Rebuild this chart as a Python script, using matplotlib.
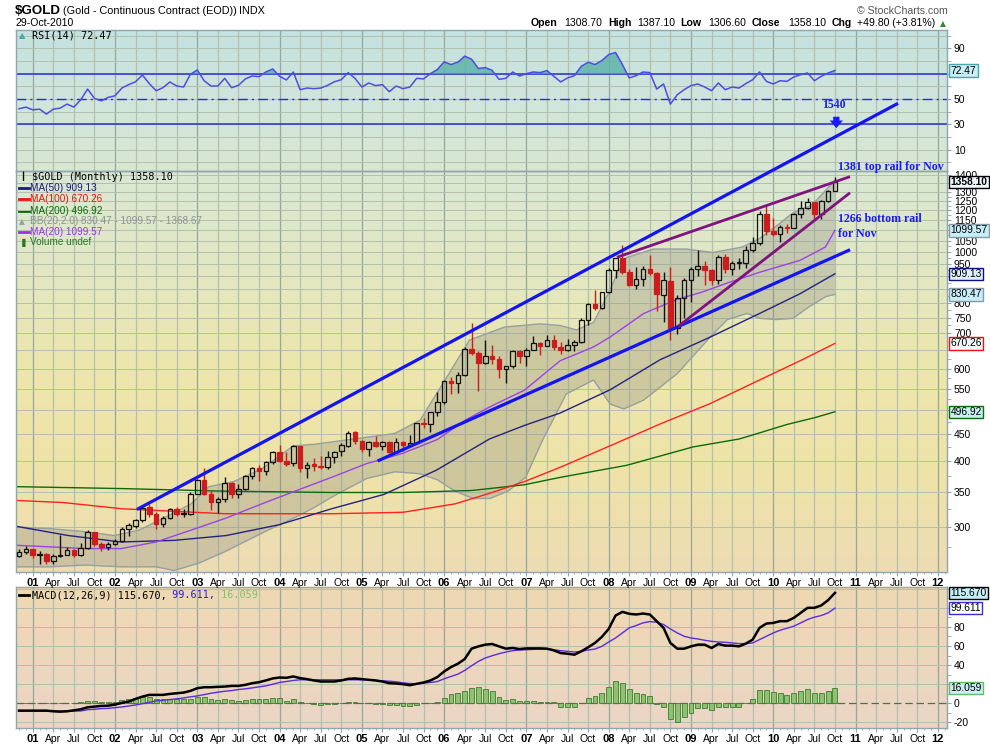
import numpy as np
import matplotlib
matplotlib.use('Agg')
import matplotlib.pyplot as plt
import matplotlib.transforms as mtransforms
from matplotlib.colors import LinearSegmentedColormap
from matplotlib.ticker import FixedLocator, FixedFormatter
from matplotlib.lines import Line2D

plt.rcParams['font.family'] = ['Liberation Sans', 'DejaVu Sans']

# ---------------- data (monthly, first bar = Nov 2000) ----------------
first_year, first_month = 2000, 11

opens = [264, 269, 272, 266, 267, 258, 264, 266, 271, 265,
         274, 293, 279, 275, 279, 282, 297, 302, 309, 327,
         318, 304, 312, 324, 318, 318, 347, 368, 347, 335,
         339, 364, 346, 355, 375, 388, 384, 398, 416, 401,
         397, 427, 388, 395, 392, 391, 408, 418, 428, 454,
         438, 422, 436, 428, 436, 417, 436, 429, 434, 473,
         470, 496, 518, 569, 564, 584, 654, 643, 616, 634,
         626, 599, 606, 648, 635, 652, 672, 663, 679, 659,
         650, 666, 673, 743, 795, 783, 838, 923, 975, 917,
         865, 887, 928, 913, 830, 880, 718, 816, 884, 928,
         942, 924, 884, 980, 927, 955, 955, 1008, 1040, 1182,
         1097, 1081, 1118, 1113, 1180, 1213, 1245, 1181, 1248, 1308.7]
highs = [272, 276, 273, 270, 268, 267, 290, 275, 272, 280,
         296, 294, 281, 281, 285, 300, 305, 311, 328, 332,
         321, 315, 326, 327, 324, 349, 371, 389, 353, 342,
         373, 366, 362, 377, 391, 394, 401, 418, 430, 417,
         429, 428, 398, 405, 409, 418, 419, 434, 456, 457,
         439, 438, 446, 438, 437, 443, 437, 448, 474, 483,
         497, 541, 572, 578, 591, 660, 732, 647, 681, 667,
         635, 607, 652, 650, 658, 691, 675, 696, 694, 675,
         682, 679, 748, 800, 848, 840, 932, 976, 1033, 928,
         936, 940, 988, 918, 917, 935, 827, 892, 938, 1007,
         963, 930, 986, 991, 960, 975, 1025, 1070, 1196, 1227,
         1162, 1127, 1130, 1185, 1249, 1266, 1246, 1253, 1310, 1387.1]
lows = [263, 267, 262, 255, 255, 255, 263, 265, 263, 264,
        272, 276, 270, 271, 277, 281, 288, 299, 307, 314,
        297, 300, 311, 315, 314, 316, 346, 345, 323, 319,
        335, 341, 341, 353, 371, 367, 377, 396, 398, 392,
        392, 381, 372, 383, 386, 386, 397, 410, 426, 431,
        416, 410, 425, 421, 414, 414, 418, 429, 433, 462,
        455, 488, 515, 536, 540, 580, 636, 543, 613, 613,
        575, 563, 603, 616, 608, 650, 637, 662, 652, 639,
        648, 647, 672, 728, 775, 780, 835, 894, 907, 861,
        851, 863, 906, 774, 737, 681, 699, 750, 802, 902,
        865, 865, 868, 911, 905, 930, 932, 1000, 1033, 1075,
        1072, 1045, 1088, 1110, 1162, 1209, 1155, 1157, 1242, 1306.6]
closes = [269, 272, 266, 267, 258, 264, 266, 271, 265, 274,
          293, 279, 275, 279, 282, 297, 303, 309, 326, 318,
          304, 312, 324, 317, 318, 347, 368, 347, 335, 339,
          364, 346, 355, 375, 388, 384, 398, 416, 400, 396,
          427, 388, 394, 392, 391, 408, 416, 429, 453, 438,
          422, 436, 428, 436, 417, 436, 429, 434, 473, 470,
          496, 518, 569, 564, 584, 654, 643, 616, 634, 626,
          599, 606, 648, 635, 652, 672, 663, 679, 659, 650,
          666, 673, 743, 795, 783, 838, 923, 975, 917, 865,
          887, 928, 913, 833, 884, 718, 816, 884, 928, 942,
          924, 884, 980, 927, 955, 955, 1008, 1040, 1182, 1097,
          1081, 1118, 1113, 1180, 1213, 1245, 1181, 1248, 1307, 1358.1]

# overlay lines: (bar index, value)
ma20_x = [-0.4, 9.7, 14.9, 20, 25.1, 30.2, 35.4, 40.5, 45.6, 50.7, 55.9, 61, 65.1, 68.7,
          73.7, 78.9, 83.8, 86.2, 91.1, 96, 99.5, 103.4, 108, 113.9, 117.6, 119]
ma20_y = [277, 273, 273, 281, 296, 312, 332, 352, 373, 396, 414, 440, 479, 508,
          546, 621, 660, 689, 764, 813, 838, 874, 915, 964, 1022, 1099.57]
ma50_x = [-0.4, 7.2, 14.9, 22.6, 30.2, 37.9, 45.6, 53.2, 60.9, 68.6, 73.7, 78.9,
          86.2, 93.5, 100.8, 108, 113.9, 119]
ma50_y = [301, 289, 281, 283, 289, 303, 325, 346, 385, 441, 468, 494,
          547, 624, 689, 764, 833, 909.13]
ma100_x = [-0.4, 6.4, 15, 30, 45.6, 56, 63.6, 68.7, 73.7, 79, 86.2, 93.5, 100.8, 108, 113.9, 119]
ma100_y = [337, 334, 325, 318, 318, 320, 332, 348, 366, 390, 428, 471, 515, 571, 621, 670.26]
ma200_x = [-0.4, 15, 30, 45.6, 56, 66, 73.7, 79, 88.6, 98.3, 105, 108, 112, 116, 119]
ma200_y = [358, 355, 351, 349, 349, 352, 361, 373, 393, 426, 441, 453, 470, 484, 496.92]
bb_up_x = [-0.4, 4.4, 9.7, 13.9, 17.5, 21.1, 25.1, 27.7, 31.3, 35.4, 40, 43.1, 48.2, 54.8,
           58.5, 62.1, 65.7, 70.8, 76, 78.9, 81.3, 83.8, 86.2, 87.2, 88.6, 92.5, 97.3,
           101.2, 105.5, 108, 110.4, 112.8, 115.7, 119]
bb_up_y = [300, 298, 294, 289, 296, 312, 332, 358, 366, 387, 428, 431, 440, 452,
           479, 570, 680, 720, 730, 725, 711, 735, 846, 909, 976, 1013, 1013,
           998, 1022, 1061, 1119, 1185, 1230, 1368.67]
bb_lo_x = [-0.4, 4.4, 9.7, 14.9, 20, 22.6, 26.2, 30.2, 35.4, 40.5, 43.1, 45.6, 50.7, 54.8,
           58.4, 61, 63.6, 66.2, 68.7, 71.3, 73.9, 76.4, 79.8, 83.8, 86.2, 88.2, 91.1,
           96, 100.8, 103.3, 106.2, 108, 110.4, 112.9, 115.3, 117.7, 119]
bb_lo_y = [252, 252, 254, 252, 252, 248, 256, 270, 292, 314, 327, 342, 371, 382,
           379, 369, 351, 340, 340, 351, 373, 440, 537, 571, 514, 503, 523,
           587, 689, 744, 764, 748, 744, 748, 788, 823, 830.47]

rsi = [42.2, 43.5, 41.4, 41.9, 38.0, 41.9, 42.7, 45.9, 43.5, 49.3,
       57.8, 50.4, 48.5, 51.2, 52.5, 58.6, 61.3, 63.6, 68.9, 62.1,
       56.5, 58.9, 63.4, 60.2, 59.4, 69.5, 72.9, 64.4, 60.2, 60.2,
       66.3, 58.9, 60.7, 65.8, 68.1, 67.6, 71.3, 73.7, 67.9, 65.0,
       71.3, 57.3, 58.6, 58.1, 58.6, 60.7, 63.6, 65.2, 70.8, 66.3,
       59.4, 62.6, 60.5, 61.3, 55.7, 60.2, 58.1, 59.4, 66.3, 65.8,
       70.0, 73.2, 79.3, 77.2, 79.0, 83.8, 81.4, 74.0, 74.8, 72.6,
       65.5, 66.3, 71.3, 68.1, 70.0, 71.3, 70.8, 72.4, 67.9, 63.4,
       66.6, 68.4, 75.8, 79.0, 77.2, 80.3, 85.1, 86.7, 77.2, 66.6,
       68.4, 71.3, 70.8, 57.8, 61.8, 45.9, 53.3, 57.3, 60.5, 61.8,
       59.4, 56.5, 62.6, 57.3, 59.4, 58.6, 62.1, 65.2, 71.3, 63.9,
       61.8, 64.4, 63.9, 67.4, 69.2, 70.5, 64.4, 67.9, 70.5, 72.47]

macd = [-7.7, -7.7, -7.7, -7.7, -7.7, -8.4, -8.8, -8.4, -7.4, -6.3,
        -4.2, -3.5, -2.8, -2.5, -1.4, 0.4, 1.8, 4.6, 7.0, 8.8,
        8.8, 8.8, 9.8, 10.5, 11.2, 13.0, 15.8, 16.8, 16.8, 17.2,
        17.5, 18.2, 18.2, 19.3, 21.0, 22.1, 23.9, 26.0, 27.0, 26.7,
        28.1, 26.3, 25.3, 23.9, 22.8, 22.8, 22.8, 23.9, 25.6, 26.0,
        25.3, 24.6, 23.9, 22.8, 21.0, 20.7, 20.0, 18.9, 20.4, 21.8,
        23.9, 27.4, 33.3, 37.9, 41.4, 46.3, 57.2, 59.6, 61.4, 62.1,
        59.6, 57.2, 57.9, 56.8, 57.5, 57.5, 57.5, 57.2, 55.4, 52.6,
        51.9, 50.9, 54.4, 58.6, 63.2, 69.5, 77.9, 91.9, 95.8, 93.7,
        93.0, 94.0, 93.0, 86.0, 79.0, 63.2, 57.2, 57.2, 59.6, 61.4,
        61.4, 57.9, 62.1, 60.4, 60.4, 59.6, 62.5, 66.7, 79.0, 83.5,
        84.2, 86.0, 86.0, 89.5, 94.7, 100.0, 100.0, 102.5, 108.0, 115.67]
signal = [-8.1, -8.1, -8.1, -8.1, -8.1, -8.1, -8.1, -8.1, -8.1, -8.1,
          -6.7, -6.3, -5.6, -5.3, -4.6, -3.9, -2.8, -1.8, -0.4, 1.0,
          2.5, 3.2, 3.9, 4.6, 5.6, 6.7, 7.7, 9.1, 10.5, 11.6,
          12.6, 13.3, 14.4, 15.1, 16.1, 17.2, 18.2, 20.0, 21.8, 22.8,
          23.9, 24.6, 24.6, 24.6, 24.6, 24.6, 24.6, 24.6, 24.6, 24.6,
          24.6, 24.6, 23.9, 23.5, 23.2, 22.5, 21.4, 20.7, 20.4, 21.0,
          21.8, 22.8, 25.6, 28.1, 30.5, 34.4, 39.3, 43.9, 47.4, 49.8,
          51.9, 53.7, 55.1, 55.8, 56.1, 56.5, 56.8, 56.8, 56.1, 55.1,
          54.4, 53.7, 54.4, 55.8, 56.8, 59.6, 64.2, 68.4, 73.7, 79.0,
          81.4, 84.2, 85.6, 84.9, 82.5, 77.9, 73.7, 70.2, 68.4, 67.4,
          66.0, 64.9, 64.2, 63.9, 63.2, 62.5, 62.5, 63.2, 66.7, 70.2,
          73.7, 76.5, 78.6, 80.7, 84.2, 87.7, 90.2, 91.9, 94.7, 99.611]
hist = [0, 0, 0, 0, 0, 0, 0, 0.5, 0.5, 1.0,
        2.8, 2.8, 1.8, 1.8, 1.8, 3.5, 4.2, 5.3, 7.0, 6.3,
        4.2, 4.2, 4.2, 4.2, 4.2, 4.6, 6.3, 6.3, 4.2, 3.5,
        4.2, 3.5, 2.8, 3.5, 4.2, 4.2, 4.2, 5.3, 5.3, 2.8,
        4.2, 1.8, 0, -0.7, -1.8, -1.0, -1.0, 0, 1.8, 1.8,
        0, 0, -0.7, -1.0, -1.8, -1.8, -2.8, -2.8, -1.8, 0,
        0.5, 1.8, 5.3, 9.5, 11.2, 13.0, 16.5, 17.5, 15.0, 12.5,
        6.3, 3.5, 4.6, 2.5, 2.5, 2.5, 1.0, 1.0, 1.0, -3.5,
        -3.5, -4.2, 0, 5.3, 7.7, 10.5, 17.5, 23.5, 21.0, 15.0,
        10.5, 9.8, 7.7, -0.7, -4.2, -16.8, -19.3, -14.0, -9.8, -5.3,
        -5.3, -7.0, -3.5, -3.5, -3.5, -3.5, 0, 4.2, 14.0, 14.0,
        11.6, 10.5, 8.8, 10.5, 13.0, 15.0, 10.5, 10.5, 13.0, 16.059]

# hand-drawn trend lines: (bar index pair, price pair)
trend_upper_blue = ([17.2, 128.2], [324, 1917])
trend_lower_blue = ([52.3, 121.2], [400.6, 1010])
trend_upper_purple = ([87.2, 121.2], [977, 1391])
trend_lower_purple = ([96.2, 121.2], [723, 1296])

price_ticks = list(range(300, 1401, 50))
price_hidden = [500, 650, 850, 900, 1100, 1350]      # covered by value boxes on the chart
rsi_ticks = [10, 30, 50, 70, 90]
rsi_hidden = [70]
macd_ticks = [-20, 0, 20, 40, 60, 80, 100]
macd_hidden = [20, 100]
month_names = ['Jan', 'Feb', 'Mar', 'Apr', 'May', 'Jun', 'Jul', 'Aug', 'Sep', 'Oct', 'Nov', 'Dec']

# ---------------- figure ----------------
W, H = 990, 744
fig = plt.figure(figsize=(W / 100, H / 100), dpi=100)
fig.patch.set_facecolor('white')


def rect(l, t, r, b):
    return [l / W, 1 - b / H, (r - l) / W, (b - t) / H]


def ftext(x, y, s, **kw):
    kw.setdefault('va', 'center')
    fig.text(x / W, 1 - y / H, s, **kw)


def fline(x0, x1, y, color, lw=2):
    fig.add_artist(Line2D([x0 / W, x1 / W], [1 - y / H, 1 - y / H], color=color, lw=lw,
                          transform=fig.transFigure))


def add_bg(r, colors):
    bg = fig.add_axes(r, zorder=0)
    cmap = LinearSegmentedColormap.from_list('g', colors)
    grad = np.linspace(0, 1, 256).reshape(-1, 1)
    bg.imshow(grad, aspect='auto', cmap=cmap, extent=[0, 1, 0, 1], origin='upper')
    bg.set_axis_off()
    return bg


R_RSI = rect(16, 30, 947, 171)
R_PRICE = rect(16, 171, 947, 572)
R_MACD = rect(16, 587, 947, 728)
add_bg(R_RSI, ['#c4e2e0', '#d0e5dc', '#d8e7d2'])
add_bg(R_PRICE, ['#d9e7d4', '#e3e8c2', '#ede6ab', '#efe3a7', '#eddcb4'])
add_bg(R_MACD, ['#efd9b2', '#edd7bc', '#ebd5c6'])

ax_rsi = fig.add_axes(R_RSI, zorder=1)
ax_p = fig.add_axes(R_PRICE, zorder=3)
ax_m = fig.add_axes(R_MACD, zorder=1)

SPINE = '#8ea6ad'
GRID = '#b3c0ad'
GRID_Y = '#93a79c'
XMIN, XMAX = -0.44, 135.34
n = len(closes)
x = np.arange(n)

quarter_pos = [i for i in range(2, 135) if (i - 2) % 3 == 0]


def month_of(i):
    m = (first_month - 1 + i) % 12
    y = first_year + (first_month - 1 + i) // 12
    return m, y


quarter_lab = []
for i in quarter_pos:
    m, y = month_of(i)
    quarter_lab.append('%02d' % (y % 100) if m == 0 else month_names[m])

for ax in (ax_rsi, ax_p, ax_m):
    ax.set_facecolor('none')
    ax.set_xlim(XMIN, XMAX)
    for s in ax.spines.values():
        s.set_color(SPINE)
        s.set_linewidth(1.0)
    for i in quarter_pos:
        m, _ = month_of(i)
        ax.axvline(i, color=GRID_Y if m == 0 else GRID, lw=0.9, zorder=0.5)
    ax.yaxis.tick_right()
    ax.tick_params(axis='y', which='both', direction='out', length=3, color=SPINE,
                   labelsize=7.5, pad=2)
    ax.xaxis.set_major_locator(FixedLocator(quarter_pos))
    ax.xaxis.set_minor_locator(FixedLocator(list(range(0, 136))))
    ax.tick_params(axis='x', which='major', length=3, color=SPINE, labelsize=7.5, pad=1.5)
    ax.tick_params(axis='x', which='minor', length=1.5, color=SPINE)

ax_rsi.tick_params(axis='x', labelbottom=False, length=0, which='both')


def set_xlabels(ax):
    ax.xaxis.set_major_formatter(FixedFormatter(quarter_lab))
    for lbl, s in zip(ax.get_xticklabels(), quarter_lab):
        if s[0].isdigit():
            lbl.set_fontweight('bold')
            lbl.set_fontsize(8)


set_xlabels(ax_p)
set_xlabels(ax_m)


def set_ylabels(ax, ticks, hidden):
    ax.yaxis.set_major_locator(FixedLocator(ticks))
    ax.yaxis.set_major_formatter(FixedFormatter(['' if t in hidden else str(t) for t in ticks]))


def value_box(ax, y, text, fc, ec, bold=False, tc='black'):
    trans = mtransforms.blended_transform_factory(ax.transAxes, ax.transData)
    ax.text(1.004, y, text, transform=trans, ha='left', va='center', fontsize=7.4,
            fontweight='bold' if bold else 'normal', color=tc,
            bbox=dict(boxstyle='square,pad=0.12', fc=fc, ec=ec, lw=1),
            clip_on=False, zorder=20)


# ---------------- RSI ----------------
ax_rsi.set_ylim(-7, 104.5)
for v in range(0, 101, 10):
    ax_rsi.axhline(v, color=GRID, lw=0.7, zorder=0.5)
ax_rsi.axhline(70, color='#2a2ad8', lw=1.1, zorder=2)
ax_rsi.axhline(30, color='#2a2ad8', lw=1.1, zorder=2)
ax_rsi.axhline(50, color='#2a2ad8', lw=1.0, ls=(0, (7, 3, 1.5, 3)), zorder=2)
rsi_a = np.array(rsi)
ax_rsi.fill_between(x, rsi_a, 70, where=rsi_a > 70, interpolate=True,
                    color='#5fb3ac', alpha=0.85, lw=0, zorder=2.5)
ax_rsi.plot(x, rsi_a, color='#4d4de0', lw=1.1, zorder=3)
set_ylabels(ax_rsi, rsi_ticks, rsi_hidden)
ax_rsi.yaxis.set_minor_locator(FixedLocator(list(range(0, 101, 10))))
value_box(ax_rsi, rsi[-1], '%.2f' % rsi[-1], '#c9eef6', '#46a8a8')

# ---------------- price ----------------
ax_p.set_yscale('log')
ax_p.set_ylim(246.4, 1425.6)
ax_p.set_xlim(XMIN, XMAX)
for v in price_ticks:
    ax_p.axhline(v, color=GRID, lw=0.7, zorder=0.5)
set_ylabels(ax_p, price_ticks, price_hidden)
ax_p.yaxis.set_minor_locator(FixedLocator([t + 25 for t in range(250, 1400, 50)]))
ax_p.yaxis.set_minor_formatter(FixedFormatter([''] * 30))

# Bollinger band
poly_x = np.concatenate([bb_up_x, bb_lo_x[::-1]])
poly_y = np.concatenate([bb_up_y, bb_lo_y[::-1]])
ax_p.fill(poly_x, poly_y, color='#8e8e86', alpha=0.33, lw=0, zorder=1)
ax_p.plot(bb_up_x, bb_up_y, color='#95a0a0', lw=1.0, zorder=1.2)
ax_p.plot(bb_lo_x, bb_lo_y, color='#95a0a0', lw=1.0, zorder=1.2)

ax_p.plot(ma200_x, ma200_y, color='#0b6b0b', lw=1.0, zorder=2)
ax_p.plot(ma100_x, ma100_y, color='#ff2020', lw=1.0, zorder=2)
ax_p.plot(ma50_x, ma50_y, color='#23237f', lw=1.0, zorder=2)
ax_p.plot(ma20_x, ma20_y, color='#9a44e6', lw=1.0, zorder=2)

# candles
RED = '#cc1d1d'
BW = 0.68
for i in range(n):
    o, h, l, c = opens[i], highs[i], lows[i], closes[i]
    prev = closes[i - 1] if i > 0 else o
    col = RED if c < prev else '#111111'
    lo_b, hi_b = min(o, c), max(o, c)
    if hi_b - lo_b < 0.004 * hi_b:
        hi_b = lo_b * 1.004
    ax_p.vlines(i, l, lo_b, color=col, lw=1.0, zorder=3)
    ax_p.vlines(i, hi_b, h, color=col, lw=1.0, zorder=3)
    ax_p.bar(i, hi_b - lo_b, bottom=lo_b, width=BW,
             facecolor=(col if c < o else 'none'), edgecolor=col, lw=0.9, zorder=3.2)

# trend lines and notes
BLUE = '#1414f0'
PURPLE = '#80147f'
ax_p.plot(*trend_upper_blue, color=BLUE, lw=2.3, clip_on=False, zorder=6, solid_capstyle='butt')
ax_p.plot(*trend_lower_blue, color=BLUE, lw=2.3, clip_on=False, zorder=6, solid_capstyle='butt')
ax_p.plot(*trend_upper_purple, color=PURPLE, lw=2.0, clip_on=False, zorder=6, solid_capstyle='butt')
ax_p.plot(*trend_lower_purple, color=PURPLE, lw=2.0, clip_on=False, zorder=6, solid_capstyle='butt')

note_font = dict(family='Liberation Serif', fontweight='bold', color='#1a1aff', fontsize=8.6,
                 clip_on=False, zorder=7)
ax_p.text(118.9, 1900, '1540', ha='center', va='center', **note_font)
ax_p.annotate('', xy=(119.2, 1699), xytext=(119.2, 1830), annotation_clip=False,
              arrowprops=dict(arrowstyle='simple,head_length=0.55,head_width=0.95,tail_width=0.45',
                              color='#1a1aff', lw=0), zorder=7)
ax_p.text(119.4, 1452, '1381 top rail for Nov', ha='left', va='center', **note_font)
ax_p.text(119.4, 1156, '1266 bottom rail', ha='left', va='center', **note_font)
ax_p.text(119.4, 1083, 'for Nov', ha='left', va='center', **note_font)

value_box(ax_p, 1358.10, '1358.10', '#eef7fa', '#000000', bold=True)
value_box(ax_p, 1099.57, '1099.57', '#c8eef8', '#8898a8')
value_box(ax_p, 909.13, '909.13', '#ddeff8', '#101080')
value_box(ax_p, 830.47, '830.47', '#c8eef8', '#8898a8')
value_box(ax_p, 670.26, '670.26', '#f2f8fa', '#ee1111')
value_box(ax_p, 496.92, '496.92', '#c8f0f0', '#0b6b0b')

# ---------------- MACD ----------------
ax_m.set_ylim(-25.9, 121.8)
for v in range(-20, 121, 20):
    if v != 0:
        ax_m.axhline(v, color=GRID, lw=0.7, zorder=0.5)
ax_m.axhline(0, color='#4f6f4f', lw=0.9, ls=(0, (6, 3)), zorder=0.8)
ax_m.bar(x, hist, width=0.72, color='#8cc46c', edgecolor='#3f7a3a', lw=0.6, zorder=2)
ax_m.plot(x, signal, color='#5a2be0', lw=1.0, zorder=3)
ax_m.plot(x, macd, color='#000000', lw=1.8, zorder=4)
set_ylabels(ax_m, macd_ticks, macd_hidden)
ax_m.yaxis.set_minor_locator(FixedLocator(list(range(-20, 121, 10))))
value_box(ax_m, macd[-1], '%.3f' % macd[-1], '#c4eef8', '#000000')
value_box(ax_m, signal[-1], '%.3f' % signal[-1], '#ffffff', '#3a2ad8')
value_box(ax_m, hist[-1], '%.3f' % hist[-1], '#c8eef0', '#66bb66')

# ---------------- header / legends ----------------
ftext(15, 10.5, '$GOLD', fontsize=9.6, fontweight='bold')
ftext(63, 11, '(Gold - Continuous Contract (EOD))', fontsize=7.8)
ftext(239, 11, 'INDX', fontsize=7.8)
ftext(16, 23.5, '29-Oct-2010', fontsize=7.6)
ftext(857, 10.5, '\u00a9 StockCharts.com', fontsize=7.6, color='#555555')
hdr = [(531, 'Open', True), (564, '1308.70', False), (608, 'High', True),
       (637, '1387.10', False), (680, 'Low', True), (708, '1306.60', False),
       (752, 'Close', True), (788, '1358.10', False), (832, 'Chg', True),
       (857, '+49.80 (+3.81%)', False)]
for hx, s, b in hdr:
    ftext(hx, 23.5, s, fontsize=7.6, fontweight='bold' if b else 'normal')
ftext(940, 23.5, '\u25b2', fontsize=5.5, color='#2e8b2e', family='DejaVu Sans')

MONO = dict(family='DejaVu Sans Mono', fontsize=7.3)
ftext(19, 36, '\u25b2', fontsize=6, color='#4aa6a6', family='DejaVu Sans')
ftext(32, 36, 'RSI(14) %.2f' % rsi[-1], **MONO)

ftext(20, 176.7, '\u2503', fontsize=6, family='DejaVu Sans')
ftext(32, 176.7, '$GOLD (Monthly) %.2f' % closes[-1], **MONO)
leg = [(188.3, 'MA(50) 909.13', '#1a1a80', True),
       (199.3, 'MA(100) 670.26', '#ee1111', True),
       (210.7, 'MA(200) 496.92', '#0b6b0b', True),
       (221.3, 'BB(20,2.0) 830.47 - 1099.57 - 1368.67', '#8a9494', False),
       (232.3, 'MA(20) 1099.57', '#9a33ee', True),
       (242.3, 'Volume undef', '#237a23', False)]
for ly, s, c, dash in leg:
    if dash:
        fline(19, 28.5, ly, c, lw=2)
    ftext(29.5, ly, s, fontsize=7.2, color=c)
ftext(19, 221.3, '\u25b2', fontsize=5.5, color='#9aa0a0', family='DejaVu Sans')
ftext(19, 242.3, '\u2590', fontsize=6, color='#237a23', family='DejaVu Sans')

fline(19, 28.5, 595, 'black', lw=2)
cw = 7.3 / 72 * 100 * 0.602
p1 = 'MACD(12,26,9) %.3f,' % macd[-1]
p2 = ' %.3f,' % signal[-1]
p3 = ' %.3f' % hist[-1]
ftext(32, 595, p1, color='black', **MONO)
ftext(32 + cw * len(p1), 595, p2, color='#2a1ad8', **MONO)
ftext(32 + cw * (len(p1) + len(p2)), 595, p3, color='#7cc46a', **MONO)

fig.savefig('out.png', dpi=100, facecolor='white')
